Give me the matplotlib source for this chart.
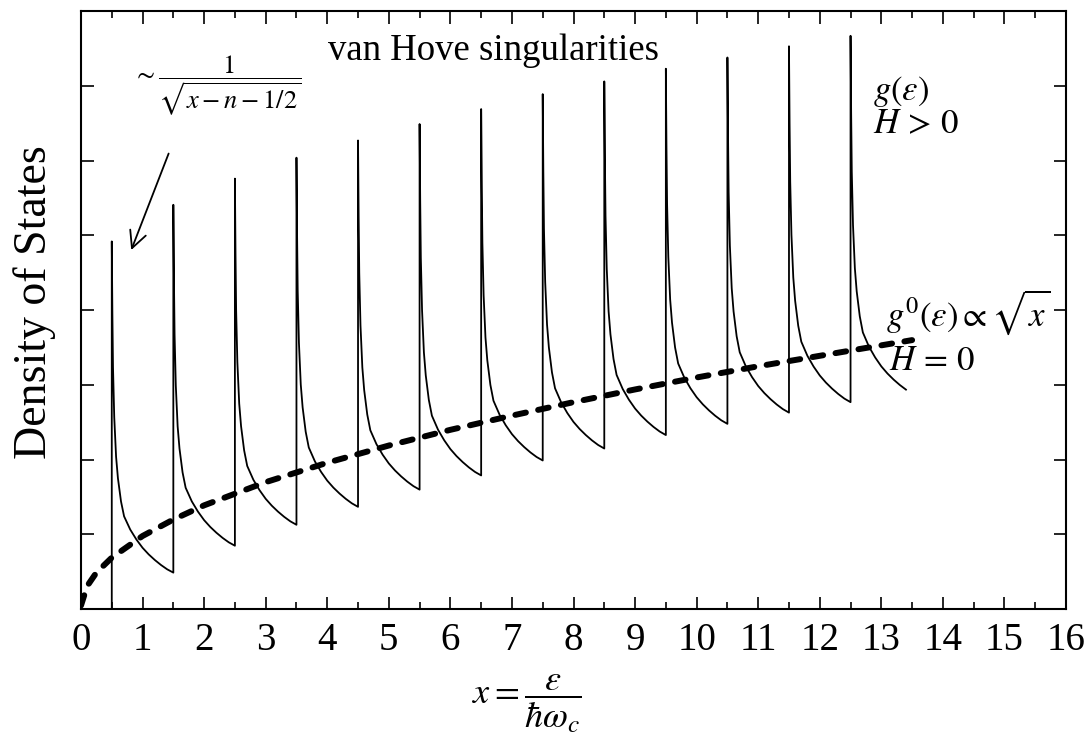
import numpy as np
import matplotlib
matplotlib.use("Agg")
import matplotlib.pyplot as plt

plt.rcParams["font.family"] = ["Liberation Serif", "DejaVu Serif"]
plt.rcParams["mathtext.fontset"] = "stix"

# peak positions x = n + 1/2 and readings
peak_x = [0.5, 1.5, 2.5, 3.5, 4.5, 5.5, 6.5, 7.5, 8.5, 9.5, 10.5, 11.5, 12.5]
peak_y = [4.92, 5.41, 5.76, 6.04, 6.27, 6.49, 6.69, 6.89, 7.06, 7.23, 7.38, 7.53, 7.67]
trough_y = [0.49, 0.85, 1.13, 1.37, 1.60, 1.79, 1.99, 2.15, 2.33, 2.48, 2.63, 2.77, 2.89]
last_end = 0.9  # last tooth stops at x ~ 13.4

# shape of one tooth: offset after the peak, fraction of the drop left
tooth_d = [0.0, 0.01, 0.02, 0.04, 0.07, 0.1, 0.15, 0.2, 0.3, 0.4, 0.5, 0.6, 0.7, 0.8, 0.9, 1.0]
tooth_f = [1.0, 0.78, 0.62, 0.47, 0.35, 0.285, 0.215, 0.17, 0.13, 0.10, 0.075, 0.055,
           0.038, 0.023, 0.01, 0.0]

# zero-field curve g0 ~ sqrt(x), read points
g0_x = [0.0, 0.1, 0.25, 0.5, 1.0, 1.5, 2.0, 3.0, 4.0, 5.0, 6.0, 7.0, 8.0, 9.0, 10.0,
        11.0, 12.0, 13.0, 13.5]
g0_y = [0.05, 0.31, 0.49, 0.69, 0.98, 1.20, 1.39, 1.70, 1.96, 2.19, 2.40, 2.59, 2.77,
        2.94, 3.10, 3.25, 3.39, 3.53, 3.60]

xticks = list(range(0, 17))

# build the sawtooth line
d = np.array(tooth_d)
f = np.array(tooth_f)
gx = [peak_x[0]]
gy = [0.0]
for i in range(len(peak_x)):
    keep = d <= (last_end if i == len(peak_x) - 1 else 1.0)
    gx += list(peak_x[i] + d[keep])
    gy += list(trough_y[i] + (peak_y[i] - trough_y[i]) * f[keep])

fig = plt.figure(figsize=(10.9, 7.43), dpi=100)
ax = fig.add_axes([0.0743, 0.180, 0.9037, 0.805])

ax.plot(gx, gy, color="black", lw=1.3)
ax.plot(g0_x, g0_y, color="black", lw=4.3, dashes=(1.8, 2.1),
        dash_capstyle="round")

ax.set_xlim(0, 16)
ax.set_ylim(0, 8)
ax.set_xticks(xticks)
ax.set_xticks(np.arange(0.5, 16, 1.0), minor=True)
ax.set_yticks(range(1, 8))
ax.set_yticklabels([])
ax.tick_params(which="both", direction="in", top=True, right=True, width=1.2)
ax.tick_params(which="major", length=9)
ax.tick_params(which="minor", length=5)
ax.tick_params(axis="x", labelsize=28, pad=9)
for s in ax.spines.values():
    s.set_linewidth(1.5)

fig.text(35 / 1090, 1 - 302 / 743, "Density of States", fontsize=33,
         rotation=90, ha="center", va="center")
fig.text(527 / 1090, 1 - 704 / 743, r"$x=\dfrac{\varepsilon}{\hbar\omega_c}$",
         fontsize=26, ha="center", va="center")

ax.text(6.7, 7.47, "van Hove singularities", fontsize=26.5, ha="center", va="center")
ax.text(0.84, 7.0, r"$\sim\dfrac{1}{\sqrt{x-n-1/2}}$", fontsize=19, ha="left", va="center")
ax.annotate("", xy=(0.8, 4.77), xytext=(1.44, 6.13),
            arrowprops=dict(arrowstyle="->", color="black", lw=1.3,
                            mutation_scale=30))

ax.text(12.87, 6.92, r"$g(\varepsilon)$", fontsize=25, ha="left", va="center")
ax.text(12.87, 6.48, r"$H\,>\,0$", fontsize=25, ha="left", va="center")
ax.text(13.08, 3.97, r"$g^0(\varepsilon)\propto\sqrt{x}$", fontsize=25, ha="left", va="center")
ax.text(13.12, 3.31, r"$H\,=\,0$", fontsize=25, ha="left", va="center")

fig.savefig("out.png", dpi=100)
